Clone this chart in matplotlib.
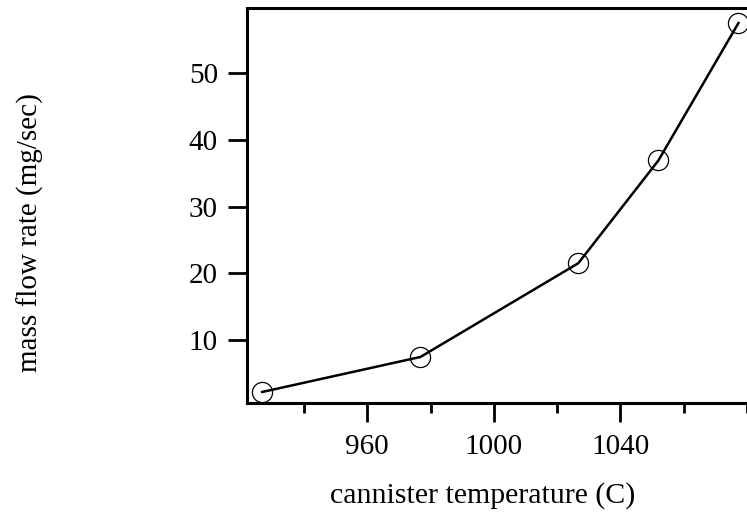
import matplotlib
matplotlib.use("Agg")
import matplotlib.pyplot as plt
from matplotlib.ticker import MultipleLocator

# --- dane ---
temperature = [926.8, 976.8, 1026.7, 1052.0, 1077.3]   # C
flow_rate = [2.2, 7.45, 21.5, 36.9, 57.5]               # mg/sec

x_major = [960, 1000, 1040]
y_major = [10, 20, 30, 40, 50]

plt.rcParams['font.family'] = ['Liberation Serif', 'DejaVu Serif']

fig = plt.figure(figsize=(7.47, 5.2), dpi=100)
ax = fig.add_axes([247/747, 1 - 403/520, 1 - 247/747, (403 - 8)/520])

ax.plot(temperature, flow_rate, '-', color='black', lw=1.8,
        marker='o', ms=14.5, mfc='none', mec='black', mew=0.9)

ax.set_xlim(922, 1080)
ax.set_ylim(0.55, 59.75)

ax.set_xticks(x_major)
ax.xaxis.set_minor_locator(MultipleLocator(20))
ax.set_yticks(y_major)

for s in ('left', 'bottom', 'top'):
    ax.spines[s].set_linewidth(2.2)
ax.spines['right'].set_visible(False)

ax.tick_params(axis='both', which='major', direction='out', length=14,
               width=2.0, labelsize=21)
ax.tick_params(axis='x', which='major', pad=8)
ax.tick_params(axis='y', which='major', pad=7)
ax.tick_params(axis='x', which='minor', direction='out', length=7, width=2.0)

# opisy osi
fig.text(483/747, 1 - 496/520, 'cannister temperature (C)',
         fontsize=21.5, ha='center', va='center')
fig.text(30/747, 1 - 233/520, 'mass flow rate (mg/sec)', rotation=90,
         fontsize=21, ha='center', va='center')

fig.savefig('out.png', dpi=100)
